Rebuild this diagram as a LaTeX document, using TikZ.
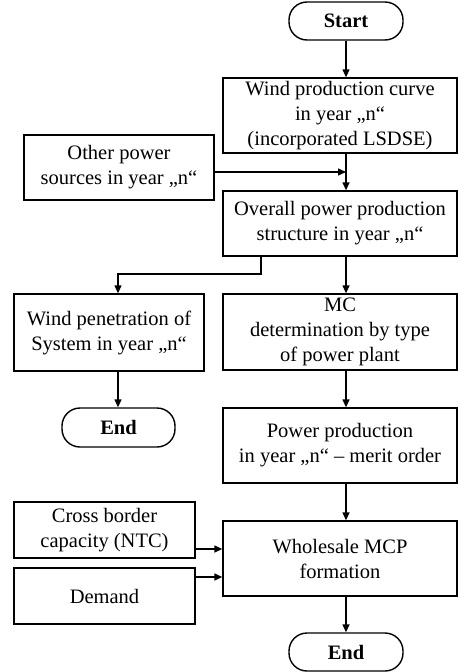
\documentclass[tikz,border=0pt]{standalone}
\usepackage{fontspec}
\setmainfont{Liberation Serif}
\usetikzlibrary{arrows.meta}
\begin{document}
\begin{tikzpicture}[x=1pt,y=-1pt,
  box/.style={draw, line width=1.4pt, rectangle, align=center, inner sep=0pt,
    font=\fontsize{20.5}{25}\selectfont},
  term/.style={box, rounded corners=18pt, font=\fontsize{20.5}{25}\selectfont\bfseries},
  arr/.style={line width=1.4pt, -{Triangle[length=8pt,width=7pt]}},
  ln/.style={line width=1.4pt}]
\useasboundingbox (0,0) rectangle (458,672);
\node[term, minimum width=114pt, minimum height=38pt] (start) at (346,21) {Start};
\node[box, minimum width=234pt, minimum height=75pt] (wind) at (340,115.5) {Wind production curve\\in year „n“\\(incorporated LSDSE)};
\node[box, minimum width=190pt, minimum height=65pt] (other) at (119,167.5) {Other power\\sources in year „n“};
\node[box, minimum width=234pt, minimum height=65pt] (overall) at (340,223.5) {Overall power production\\structure in year „n“};
\node[box, minimum width=190pt, minimum height=77pt] (wpen) at (109,332.5) {Wind penetration of\\System in year „n“};
\node[box, minimum width=234pt, minimum height=76pt] (mc) at (340,332) {MC\\determination by type\\of power plant};
\node[term, minimum width=113pt, minimum height=39pt] (end1) at (118.5,427.5) {End};
\node[box, minimum width=234pt, minimum height=75pt] (pp) at (340,445.5) {Power production\\in year „n“ – merit order};
\node[box, minimum width=234pt, minimum height=75pt] (whole) at (340,558.5) {Wholesale MCP\\formation};
\node[box, minimum width=181pt, minimum height=56pt] (cross) at (104.5,530) {Cross border\\capacity (NTC)};
\node[box, minimum width=181pt, minimum height=56pt] (demand) at (104.5,596) {Demand};
\node[term, minimum width=114pt, minimum height=38pt] (end2) at (346,652) {End};
\coordinate (j1) at (346,172);
\coordinate (b1) at (261,274);
\coordinate (b2) at (118,274);
\draw[arr] (start) -- (start |- wind.north);
\draw[arr] (start |- wind.south) -- (start |- overall.north);
\draw[arr] (other.east |- j1) -- (j1);
\draw[arr] (start |- overall.south) -- (start |- mc.north);
\draw[arr] (b1 |- overall.south) -- (b1) -- (b2) -- (b2 |- wpen.north);
\draw[arr] (b2 |- wpen.south) -- (b2 |- end1.north);
\draw[arr] (start |- mc.south) -- (start |- pp.north);
\draw[arr] (start |- pp.south) -- (start |- whole.north);
\draw[arr] (cross.east |- 0,549) -- (whole.west |- 0,549);
\draw[arr] (demand.east |- 0,577) -- (whole.west |- 0,577);
\draw[arr] (start |- whole.south) -- (end2);
\end{tikzpicture}
\end{document}
